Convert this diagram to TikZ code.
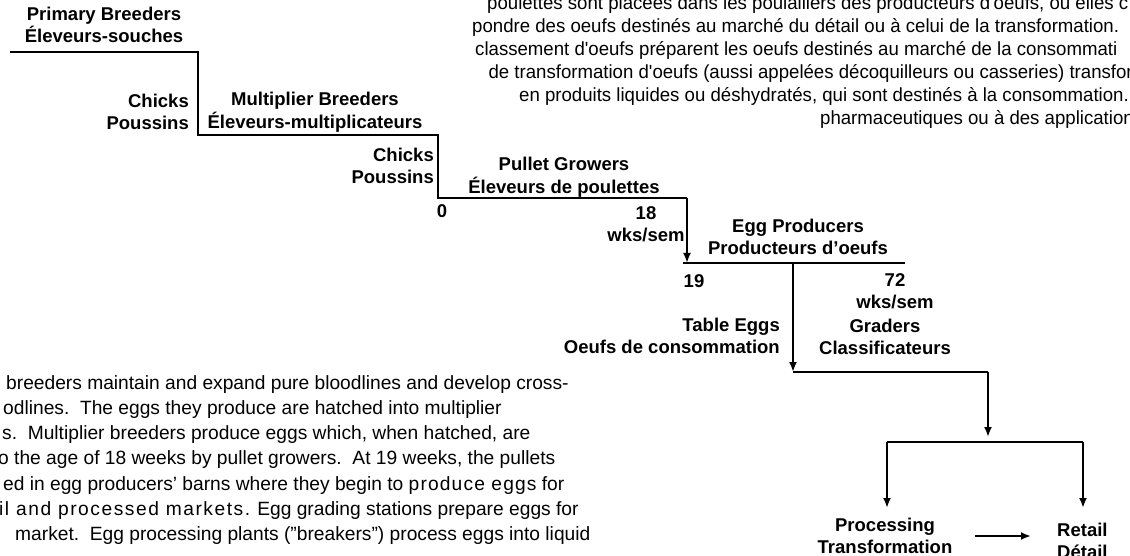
\documentclass[tikz,border=0pt]{standalone}
\usepackage{fontspec}
\setmainfont{Liberation Sans}
\newfontfamily\narrowfont[FakeStretch=0.98]{Liberation Sans}
\usetikzlibrary{arrows.meta}

\tikzset{
  lbl/.style={font=\bfseries\fontsize{18.5}{22.5}\selectfont, align=center, inner sep=0pt},
  para/.style={font=\fontsize{19.2}{25}\selectfont, anchor=base west, inner sep=0pt},
  frtxt/.style={font=\narrowfont\fontsize{19}{23}\selectfont, anchor=base west, inner sep=0pt},
  flow/.style={line width=2.2pt},
  arr/.style={line width=2.2pt, -{Latex[length=10pt,width=8pt]}},
}

\begin{document}
\begin{tikzpicture}[x=1pt,y=-1pt]
\useasboundingbox (0,0) rectangle (1130,556);
\clip (0,0) rectangle (1130,556);

%staircase corners
\coordinate (p1) at (10,52);
\coordinate (p2) at (198,52);
\coordinate (p3) at (198,135);
\coordinate (p4) at (438,135);
\coordinate (p5) at (438,198);
\coordinate (p6) at (687,198);
\coordinate (p7) at (687,263);
\coordinate (q1) at (683,263);
\coordinate (q2) at (905,263);
\coordinate (t1) at (793,263);
\coordinate (t2) at (793,372);
\coordinate (g1) at (988,372);
\coordinate (g2) at (988,437);
\coordinate (s1) at (887,442);
\coordinate (s2) at (1083,442);
\coordinate (s3) at (887,508);
\coordinate (s4) at (1083,508);

%steps
\draw[flow] (p1) -- (p2) -- (p3) -- (p4) -- (p5) -- (p6);
\draw[arr] (p6) -- (p7);
\draw[flow] (q1) -- (q2);
\draw[arr] (t1) -- (t2);
\draw[flow] (t2) -- (g1);
\draw[arr] (g1) -- (g2);
\draw[flow] (s1) -- (s2);
\draw[arr] (s1) -- (s3);
\draw[arr] (s2) -- (s4);

%labels
\node[lbl] (prim) at (104,25) {Primary Breeders\\Éleveurs-souches};
\node[lbl, align=right, anchor=east] (chick1) at (189,112) {Chicks\\Poussins};
\node[lbl] (mult) at (315,112) {Multiplier Breeders\\Éleveurs-multiplicateurs};
\node[lbl, align=right, anchor=east] (chick2) at (434,166) {Chicks\\Poussins};
\node[lbl] (wk0) at (442,211) {0};
\node[lbl] (pull) at (564,177) {Pullet Growers\\Éleveurs de poulettes};
\node[lbl] (wk18) at (646,224) {18\\wks/sem};
\node[lbl] (prod) at (798,237) {Egg Producers\\Producteurs d’oeufs};
\node[lbl] (wk19) at (694,281) {19};
\node[lbl] (wk72) at (895,291) {72\\wks/sem};
\node[lbl, align=right, anchor=east] (table) at (780,336) {Table Eggs\\Oeufs de consommation};
\node[lbl] (grad) at (885,337) {Graders\\Classificateurs};
\node[lbl] (proc) at (885,536) {Processing\\Transformation};
\node[lbl, align=left, anchor=west] (retail) at (1057,541) {Retail\\Détail};
\draw[arr, shorten <=22pt, shorten >=26pt] (proc.east) -- (retail.west |- proc.east);

%french text
\node[frtxt] (fr1) at (487,10) {poulettes sont placées dans les poulaillers des producteurs d'oeufs, où elles c};
\node[frtxt] (fr2) at (472,33) {pondre des oeufs destinés au marché du détail ou à celui de la transformation.};
\node[frtxt] (fr3) at (475,56) {classement d'oeufs préparent les oeufs destinés au marché de la consommati};
\node[frtxt, anchor=base east] (fr4) at (1133,79) {de transformation d'oeufs (aussi appelées décoquilleurs ou casseries) transfor};
\node[frtxt, anchor=base east] (fr5) at (1129,102) {en produits liquides ou déshydratés, qui sont destinés à la consommation.};
\node[frtxt, anchor=base east] (fr6) at (1134,125) {pharmaceutiques ou à des application};

%english text
\node[para] (en1) at (6,389) {breeders maintain and expand pure bloodlines and develop cross-};
\node[para] (en2) at (3,414) {odlines.\ \ The eggs they produce are hatched into multiplier};
\node[para] (en3) at (2,439) {s.\ \ Multiplier breeders produce eggs which, when hatched, are};
\node[para] (en4) at (-2,464) {o the age of 18 weeks by pullet growers.\ \ At 19 weeks, the pullets};
\node[para] (en5) at (3,490) {ed in egg producers’ barns where they begin to {\addfontfeature{LetterSpace=6}produce eggs} for};
\node[para] (en6) at (-1,515) {{\addfontfeature{LetterSpace=8}il and processed markets.} Egg grading stations prepare eggs for};
\node[para] (en7) at (15,540) {market.\ \ Egg processing plants (\symbol{34}breakers\symbol{34}) process eggs into liquid};

\end{tikzpicture}
\end{document}
